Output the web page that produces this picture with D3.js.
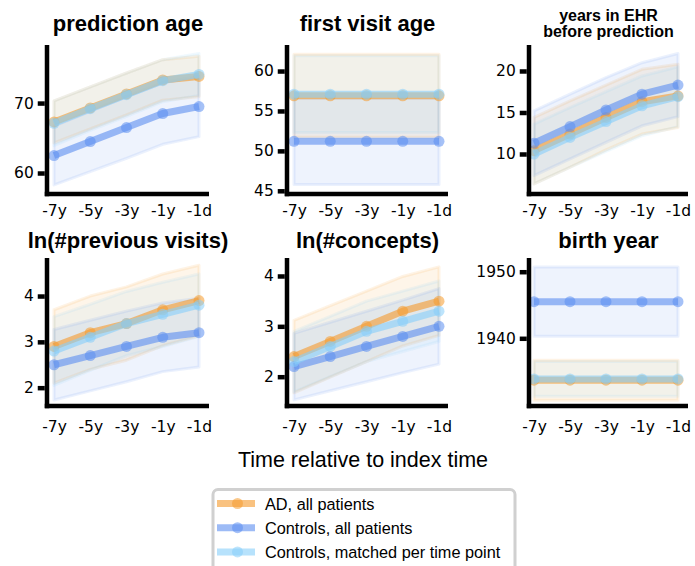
<!DOCTYPE html>
<html>
<head>
<meta charset="utf-8">
<script src="https://cdn.jsdelivr.net/npm/d3@7"></script>
<style>
  body { margin: 0; background: white; }
  svg { display: block; }
</style>
</head>
<body>
<script>
var times = ["-7y", "-5y", "-3y", "-1y", "-1d"]

// prediction age
var predAgeAD = [67.3, 69.3, 71.3, 73.3, 73.8]
var predAgeADSd = [3.0, 3.0, 3.0, 2.9, 2.9]
var predAgeCtrl = [62.5, 64.5, 66.5, 68.5, 69.5]
var predAgeCtrlSd = [4.2, 4.3, 4.4, 4.4, 4.3]
var predAgeMatched = [67.1, 69.2, 71.2, 73.2, 74.1]
var predAgeMatchedSd = [3.2, 3.1, 3.1, 3.0, 3.0]

// first visit age
var firstVisitAD = [56.9, 56.9, 56.9, 56.9, 56.9]
var firstVisitADSd = [5.2, 5.2, 5.2, 5.2, 5.2]
var firstVisitCtrl = [51.2, 51.2, 51.2, 51.2, 51.2]
var firstVisitCtrlSd = [5.4, 5.4, 5.4, 5.4, 5.4]
var firstVisitMatched = [57.1, 57.1, 57.1, 57.1, 57.1]
var firstVisitMatchedSd = [4.8, 4.8, 4.8, 4.8, 4.8]

// years in EHR before prediction
var yearsEhrAD = [10.4, 12.4, 14.4, 16.3, 17.0]
var yearsEhrADSd = [4.0, 4.0, 3.9, 3.9, 3.8]
var yearsEhrCtrl = [11.3, 13.3, 15.3, 17.2, 18.3]
var yearsEhrCtrlSd = [3.9, 3.9, 3.9, 3.8, 3.8]
var yearsEhrMatched = [10.0, 12.0, 13.9, 15.8, 16.9]
var yearsEhrMatchedSd = [3.6, 3.6, 3.6, 3.6, 3.6]

// ln(#previous visits)
var visitsAD = [2.9, 3.2, 3.4, 3.7, 3.9]
var visitsADSd = [0.8, 0.8, 0.8, 0.78, 0.77]
var visitsCtrl = [2.5, 2.7, 2.9, 3.1, 3.2]
var visitsCtrlSd = [0.77, 0.77, 0.77, 0.75, 0.75]
var visitsMatched = [2.8, 3.1, 3.4, 3.6, 3.8]
var visitsMatchedSd = [0.75, 0.72, 0.7, 0.7, 0.68]

// ln(#concepts)
var conceptsAD = [2.4, 2.7, 3.0, 3.3, 3.5]
var conceptsADSd = [0.72, 0.71, 0.7, 0.69, 0.68]
var conceptsCtrl = [2.2, 2.4, 2.6, 2.8, 3.0]
var conceptsCtrlSd = [0.66, 0.68, 0.7, 0.72, 0.75]
var conceptsMatched = [2.3, 2.6, 2.9, 3.1, 3.3]
var conceptsMatchedSd = [0.6, 0.6, 0.6, 0.6, 0.6]

// birth year
var birthAD = [1933.7, 1933.7, 1933.7, 1933.7, 1933.7]
var birthADSd = [3.0, 3.0, 3.0, 3.0, 3.0]
var birthCtrl = [1945.5, 1945.5, 1945.5, 1945.5, 1945.5]
var birthCtrlSd = [5.2, 5.2, 5.2, 5.2, 5.2]
var birthMatched = [1933.9, 1933.9, 1933.9, 1933.9, 1933.9]
var birthMatchedSd = [2.6, 2.6, 2.6, 2.6, 2.6]

var seriesNames = ["AD, all patients", "Controls, all patients", "Controls, matched per time point"]
var seriesColors = ["#f59a2c", "#5b8ef0", "#87cefa"]

var width = 695
var height = 566

// layout
var colSpine = [47, 287, 529]
var colPts = [[54, 199], [294, 439], [534, 678]]
var colEnd = [209, 448, 688]
var rowTop = [45, 258]
var rowBottom = [194, 406]
var titleY = [31, 248]
var tickBaseline = [216, 432]

var panels = [
    { title: ["prediction age"], col: 0, row: 0, domain: [57, 78.3], ticks: [60, 70],
      series: [[predAgeAD, predAgeADSd], [predAgeCtrl, predAgeCtrlSd], [predAgeMatched, predAgeMatchedSd]] },
    { title: ["first visit age"], col: 1, row: 0, domain: [44.6, 63.26], ticks: [45, 50, 55, 60],
      series: [[firstVisitAD, firstVisitADSd], [firstVisitCtrl, firstVisitCtrlSd], [firstVisitMatched, firstVisitMatchedSd]] },
    { title: ["years in EHR", "before prediction"], col: 2, row: 0, domain: [5.18, 23.13], ticks: [10, 15, 20],
      series: [[yearsEhrAD, yearsEhrADSd], [yearsEhrCtrl, yearsEhrCtrlSd], [yearsEhrMatched, yearsEhrMatchedSd]] },
    { title: ["ln(#previous visits)"], col: 0, row: 1, domain: [1.6, 4.83], ticks: [2, 3, 4],
      series: [[visitsAD, visitsADSd], [visitsCtrl, visitsCtrlSd], [visitsMatched, visitsMatchedSd]] },
    { title: ["ln(#concepts)"], col: 1, row: 1, domain: [1.418, 4.357], ticks: [2, 3, 4],
      series: [[conceptsAD, conceptsADSd], [conceptsCtrl, conceptsCtrlSd], [conceptsMatched, conceptsMatchedSd]] },
    { title: ["birth year"], col: 2, row: 1, domain: [1929.83, 1952.06], ticks: [1940, 1950],
      series: [[birthAD, birthADSd], [birthCtrl, birthCtrlSd], [birthMatched, birthMatchedSd]] }
]

var svg = d3.select("body")
    .append("svg")
    .attr("width", width)
    .attr("height", height)

panels.forEach(function (p) {
    var spine = colSpine[p.col]
    var top = rowTop[p.row]
    var bottom = rowBottom[p.row]

    var x = d3.scalePoint().domain(times).range(colPts[p.col])
    var y = d3.scaleLinear().domain(p.domain).range([bottom, top])

    var g = svg.append("g")

    // bands (mean +/- sd)
    p.series.forEach(function (s, i) {
        var pts = times.map(function (t, j) { return { t: t, m: s[0][j], sd: s[1][j] } })
        var area = d3.area()
            .x(function (d) { return x(d.t) })
            .y0(function (d) { return y(d.m - d.sd) })
            .y1(function (d) { return y(d.m + d.sd) })
        g.append("path")
            .attr("d", area(pts))
            .attr("fill", seriesColors[i])
            .attr("fill-opacity", 0.1)
            .attr("stroke", seriesColors[i])
            .attr("stroke-opacity", 0.12)
            .attr("stroke-width", 3)
            .attr("stroke-linejoin", "round")
    })

    // lines + markers
    p.series.forEach(function (s, i) {
        var line = d3.line()
            .x(function (d, j) { return x(times[j]) })
            .y(function (d) { return y(d) })
        g.append("path")
            .attr("d", line(s[0]))
            .attr("fill", "none")
            .attr("stroke", seriesColors[i])
            .attr("stroke-opacity", 0.6)
            .attr("stroke-width", 7)
            .attr("stroke-linejoin", "round")
        g.selectAll(null)
            .data(s[0])
            .enter()
            .append("circle")
            .attr("cx", function (d, j) { return x(times[j]) })
            .attr("cy", function (d) { return y(d) })
            .attr("r", 5.5)
            .attr("fill", seriesColors[i])
            .attr("fill-opacity", 0.55)
    })

    // y axis
    var yAxis = g.append("g")
        .attr("transform", "translate(" + (spine - 2.25) + ",0)")
        .call(d3.axisLeft(y).tickValues(p.ticks).tickSize(7).tickPadding(4).tickFormat(d3.format("d")))
    yAxis.select(".domain").remove()
    yAxis.selectAll(".tick line").attr("stroke", "black").attr("stroke-width", 4.5)
    yAxis.selectAll(".tick text")
        .attr("font-family", "DejaVu Sans")
        .attr("font-size", 15.5)
        .attr("fill", "black")

    // x tick labels
    var xAxis = g.append("g")
        .attr("transform", "translate(0," + bottom + ")")
        .call(d3.axisBottom(x).tickSize(0).tickPadding(tickBaseline[p.row] - bottom - 11))
    xAxis.select(".domain").remove()
    xAxis.selectAll(".tick text")
        .attr("font-family", "DejaVu Sans")
        .attr("font-size", 15.5)
        .attr("fill", "black")

    // spines
    g.append("line")
        .attr("x1", spine).attr("x2", spine)
        .attr("y1", top).attr("y2", bottom + 2.25)
        .attr("stroke", "black").attr("stroke-width", 4.5)
    g.append("line")
        .attr("x1", spine - 2.25).attr("x2", colEnd[p.col])
        .attr("y1", bottom).attr("y2", bottom)
        .attr("stroke", "black").attr("stroke-width", 4.5)

    // title
    var cx = (spine + colEnd[p.col]) / 2
    if (p.title.length === 1) {
        g.append("text")
            .attr("x", cx).attr("y", titleY[p.row])
            .attr("text-anchor", "middle")
            .attr("font-family", "Liberation Sans, Arial, sans-serif")
            .attr("font-weight", "bold")
            .attr("font-size", 22)
            .text(p.title[0])
    } else {
        p.title.forEach(function (t, k) {
            g.append("text")
                .attr("x", cx).attr("y", 20.5 + k * 16)
                .attr("text-anchor", "middle")
                .attr("font-family", "Liberation Sans, Arial, sans-serif")
                .attr("font-weight", "bold")
                .attr("font-size", 16)
                .text(t)
        })
    }
})

// shared x label
svg.append("text")
    .attr("x", 363).attr("y", 466.5)
    .attr("text-anchor", "middle")
    .attr("font-family", "Liberation Sans, Arial, sans-serif")
    .attr("font-size", 21.5)
    .text("Time relative to index time")

// legend
var legend = svg.append("g")
legend.append("rect")
    .attr("x", 213).attr("y", 489.5)
    .attr("width", 302).attr("height", 100)
    .attr("rx", 5)
    .attr("fill", "white")
    .attr("stroke", "#d0d0d0")
    .attr("stroke-width", 3)

seriesNames.forEach(function (name, i) {
    var ly = 503.5 + i * 24.2
    legend.append("line")
        .attr("x1", 217).attr("x2", 255)
        .attr("y1", ly).attr("y2", ly)
        .attr("stroke", seriesColors[i])
        .attr("stroke-opacity", 0.6)
        .attr("stroke-width", 7)
    legend.append("circle")
        .attr("cx", 237.5).attr("cy", ly)
        .attr("r", 5.5)
        .attr("fill", seriesColors[i])
        .attr("fill-opacity", 0.55)
    legend.append("text")
        .attr("x", 265).attr("y", ly + 6)
        .attr("font-family", "Liberation Sans, Arial, sans-serif")
        .attr("font-size", 16.3)
        .text(name)
})
</script>
</body>
</html>
